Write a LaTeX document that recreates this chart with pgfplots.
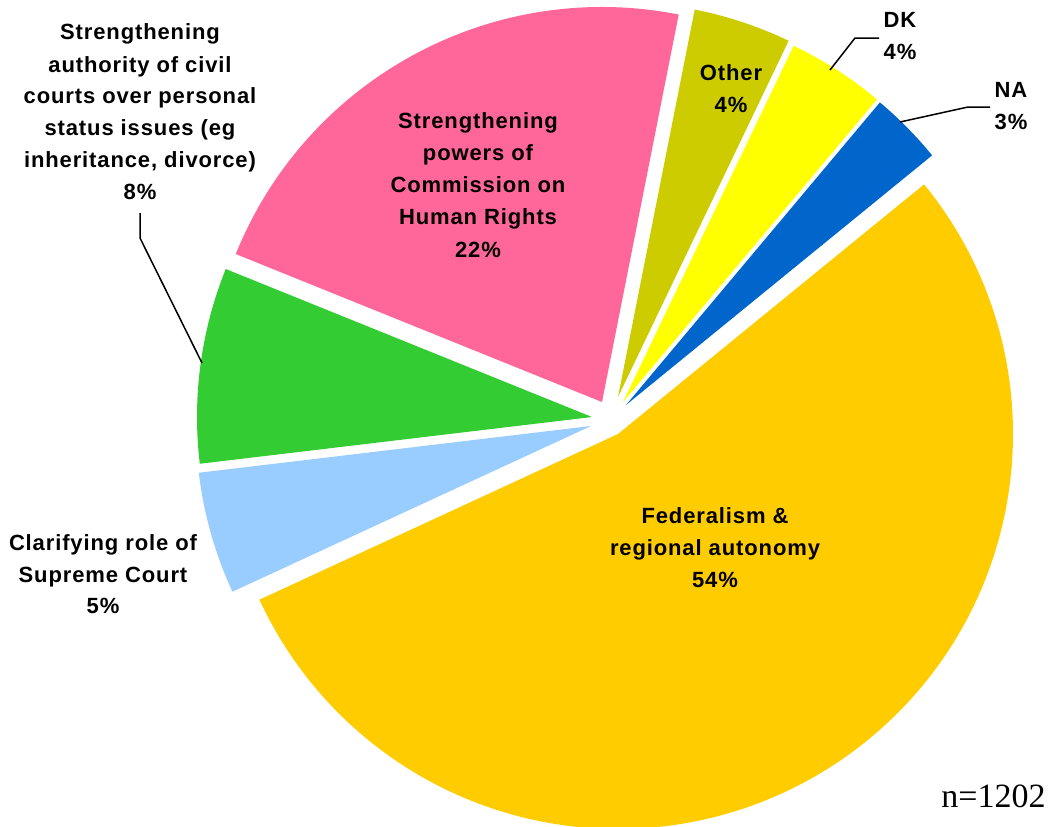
\documentclass[border=0pt]{standalone}
\usepackage{fontspec}
\setmainfont{Liberation Sans}
\newfontfamily\lblfont{Liberation Sans}[LetterSpace=4]
\newfontfamily\seriffont{Liberation Serif}
\usepackage{pgfplots}
\pgfplotsset{compat=1.18}
\usepackage{pgfplotstable}
\definecolor{cFed}{HTML}{FFCC00}
\definecolor{cSup}{HTML}{99CCFF}
\definecolor{cCiv}{HTML}{33CC33}
\definecolor{cCom}{HTML}{FF6699}
\definecolor{cOth}{HTML}{CCCC00}
\definecolor{cDK}{HTML}{FFFF00}
\definecolor{cNA}{HTML}{0066CC}
% slices clockwise from the start angle; vx vy = (exploded) apex in pixel coordinates
\pgfplotstableread{
label value vx vy col
Fed 54 618 434 cFed
Sup 5 591 426 cSup
Civ 8 592 417 cCiv
Com 22 602 402 cCom
Oth 4 618 397 cOth
DK 4 623 402 cDK
NA 3 626 405 cNA
}\piedata
\newcommand{\Lb}[3]{\node[anchor=base,inner sep=0pt,font=\lblfont\bfseries\fontsize{11}{16}\selectfont] at (axis cs:#1,#2) {#3};}
\begin{document}
\begin{tikzpicture}
\begin{axis}[
  width=525pt, height=413pt, scale only axis,
  xmin=0, xmax=1050, ymin=0, ymax=826, y dir=reverse,
  hide axis, clip=false]
\pgfplotsextra{
  \gdef\curang{39.2}
  \pgfplotstablegetrowsof{\piedata}
  \pgfmathtruncatemacro\nrows{\pgfplotsretval-1}
  \foreach \i in {0,...,\nrows}{
    \pgfplotstablegetelem{\i}{value}\of\piedata \edef\sval{\pgfplotsretval}
    \pgfplotstablegetelem{\i}{vx}\of\piedata \edef\svx{\pgfplotsretval}
    \pgfplotstablegetelem{\i}{vy}\of\piedata \edef\svy{\pgfplotsretval}
    \pgfplotstablegetelem{\i}{col}\of\piedata \edef\scol{\pgfplotsretval}
    \pgfmathsetmacro\aend{\curang-3.6*\sval}
    \fill[\scol] (axis cs:\svx,\svy) -- ++(\curang:197.5pt)
       arc[start angle=\curang, end angle=\aend, radius=197.5pt] -- cycle;
    \xdef\curang{\aend}
  }
  \draw[black, line width=0.75pt] (axis cs:140,213) -- (axis cs:140,238) -- (axis cs:202,363);
  \draw[black, line width=0.75pt] (axis cs:830,70) -- (axis cs:855,38) -- (axis cs:879,38);
  \draw[black, line width=0.75pt] (axis cs:900,122) -- (axis cs:968,107) -- (axis cs:990,107);
}
\Lb{140}{39}{Strengthening}
\Lb{140}{72}{authority of civil}
\Lb{140}{103}{courts over personal}
\Lb{140}{135}{status issues (eg}
\Lb{140}{167}{inheritance, divorce)}
\Lb{140}{199}{8\%}
\Lb{478}{128}{Strengthening}
\Lb{478}{160}{powers of}
\Lb{478}{192}{Commission on}
\Lb{478}{224}{Human Rights}
\Lb{478}{257}{22\%}
\Lb{731}{80}{Other}
\Lb{731}{112}{4\%}
\Lb{900}{27}{DK}
\Lb{900}{59}{4\%}
\Lb{1011}{97}{NA}
\Lb{1011}{129}{3\%}
\Lb{715}{523}{Federalism \&}
\Lb{715}{555}{regional autonomy}
\Lb{715}{587}{54\%}
\Lb{103}{550}{Clarifying role of}
\Lb{103}{582}{Supreme Court}
\Lb{103}{613}{5\%}
\node[anchor=base east,inner sep=0pt,font=\seriffont\fontsize{17}{19}\selectfont] at (axis cs:1046,807) {n=1202};
\end{axis}
\pgfresetboundingbox
\path[use as bounding box] (current axis.south west) rectangle (current axis.north east);
\end{tikzpicture}
\end{document}
